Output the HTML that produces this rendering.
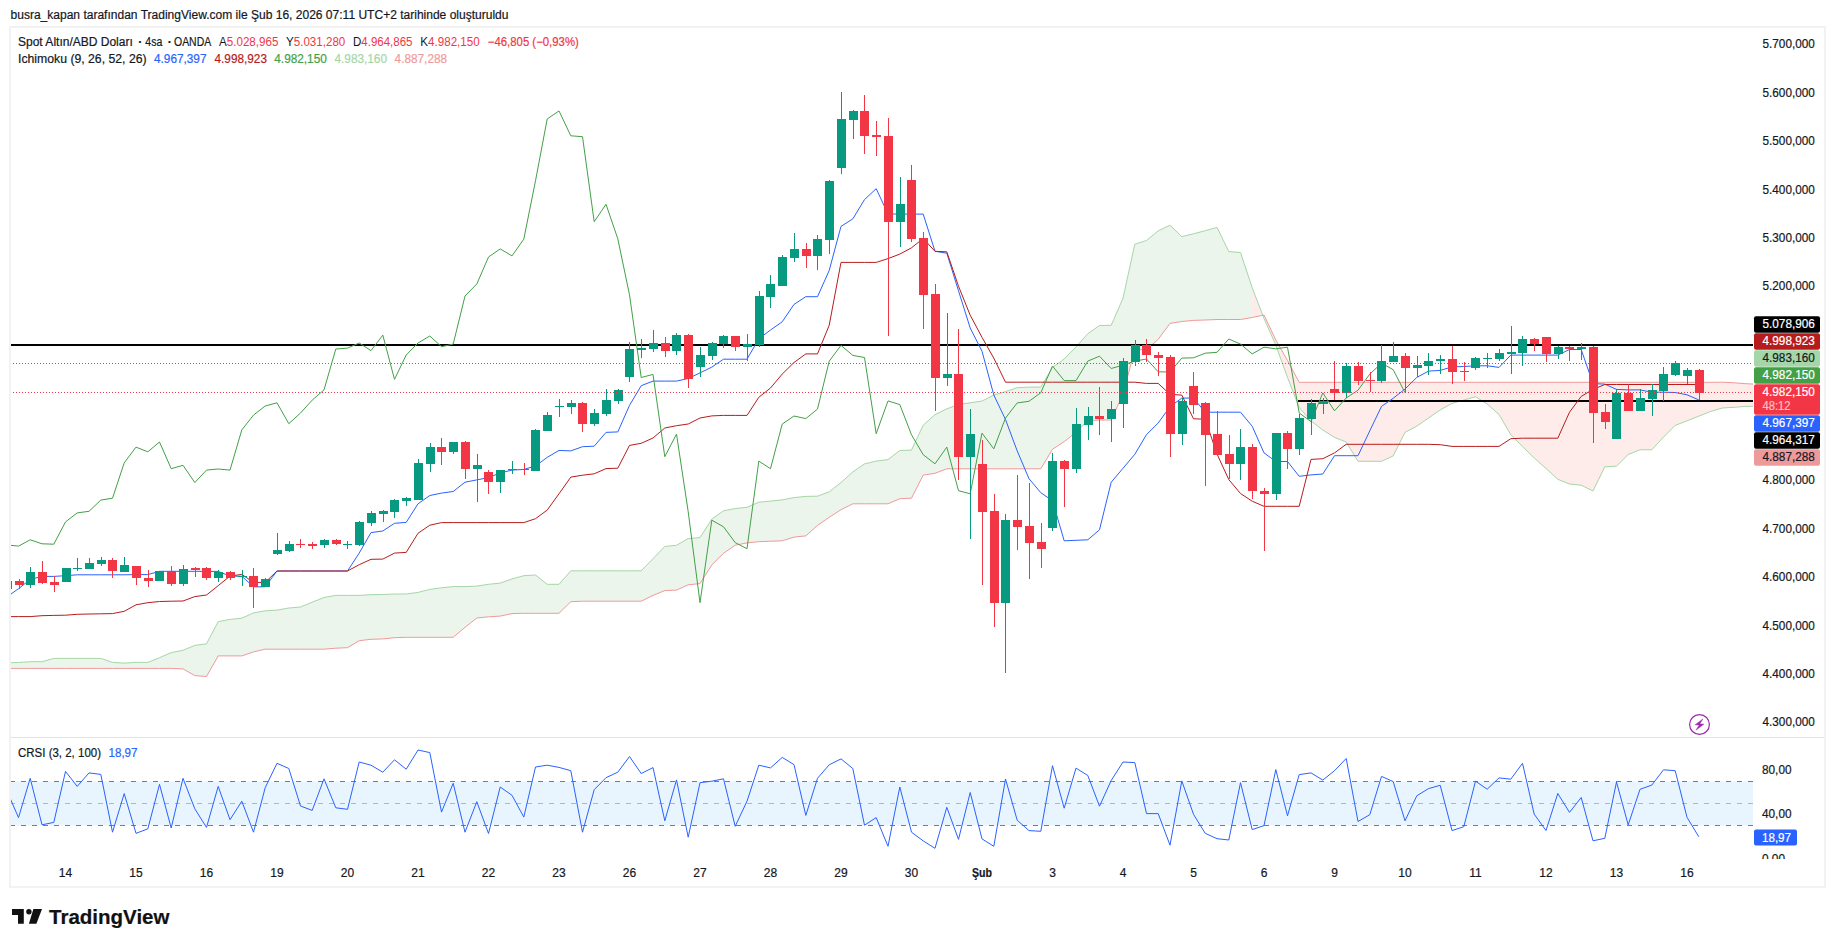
<!DOCTYPE html>
<html lang="tr"><head><meta charset="utf-8"><title>TradingView</title>
<style>html,body{margin:0;padding:0;background:#fff;}body{width:1835px;height:947px;overflow:hidden;position:relative;font-family:'Liberation Sans', sans-serif;}svg{position:absolute;left:0;top:0;display:block}text{font-family:'Liberation Sans', sans-serif;stroke-width:0.2px;paint-order:stroke;}</style>
</head><body>
<svg width="1835" height="947" viewBox="0 0 1835 947">
<defs>
<clipPath id="cm"><rect x="11" y="28" width="1742" height="709"/></clipPath>
<clipPath id="cc"><rect x="11" y="738" width="1742" height="122"/></clipPath>
<clipPath id="ca"><rect x="1753" y="738" width="80" height="121"/></clipPath>
</defs>
<rect width="1835" height="947" fill="#fff"/>
<rect x="10" y="27" width="1815" height="860" fill="none" stroke="#f2f2f2" stroke-width="2"/>
<rect x="11" y="737" width="1813" height="1" fill="#e0e3eb"/>
<g clip-path="url(#cm)">
<path d="M6.8 662.8L18.5 662.5L18.5 668.4L6.8 668.4ZM18.5 662.5L30.2 661.7L30.2 668.4L18.5 668.4ZM30.2 661.7L42 661.7L42 668.4L30.2 668.4ZM42 661.7L53.8 658.4L53.8 668.4L42 668.4ZM53.8 658.4L65.5 658.4L65.5 668.4L53.8 668.4ZM65.5 658.4L77.2 658.4L77.2 668.4L65.5 668.4ZM77.2 658.4L89 658.4L89 668.4L77.2 668.4ZM89 658.4L100.8 658.4L100.8 668.4L89 668.4ZM100.8 658.4L112.5 662.4L112.5 668.4L100.8 668.4ZM112.5 662.4L124.2 663.1L124.2 668.4L112.5 668.4ZM124.2 663.1L136 662.4L136 668.4L124.2 668.4ZM136 662.4L147.8 662.4L147.8 668.4L136 668.4ZM147.8 662.4L159.5 657.7L159.5 668.4L147.8 668.4ZM159.5 657.7L171.2 652.6L171.2 668.4L159.5 668.4ZM171.2 652.6L183 650.3L183 668.9L171.2 668.4ZM183 650.3L194.8 645.4L194.8 675.6L183 668.9ZM194.8 645.4L206.5 643.8L206.5 676.5L194.8 675.6ZM206.5 643.8L218.2 621.7L218.2 655.9L206.5 676.5ZM218.2 621.7L230 619.4L230 655.9L218.2 655.9ZM230 619.4L241.8 618.2L241.8 655.9L230 655.9ZM241.8 618.2L253.5 612.9L253.5 651.9L241.8 655.9ZM253.5 612.9L265.2 610.8L265.2 649.2L253.5 651.9ZM265.2 610.8L277 610.1L277 649.2L265.2 649.2ZM277 610.1L288.8 608L288.8 649.2L277 649.2ZM288.8 608L300.5 607L300.5 649.2L288.8 649.2ZM300.5 607L312.2 602.2L312.2 649.2L300.5 649.2ZM312.2 602.2L324 597.5L324 649.2L312.2 649.2ZM324 597.5L335.8 595.4L335.8 648.2L324 649.2ZM335.8 595.4L347.5 595.4L347.5 647.7L335.8 648.2ZM347.5 595.4L359.2 595.4L359.2 640.7L347.5 647.7ZM359.2 595.4L371 594.7L371 639.3L359.2 640.7ZM371 594.7L382.8 594.5L382.8 638.9L371 639.3ZM382.8 594.5L394.5 594L394.5 637.7L382.8 638.9ZM394.5 594L406.2 594L406.2 637.3L394.5 637.7ZM406.2 594L418 592.4L418 637.3L406.2 637.3ZM418 592.4L429.8 589.4L429.8 637.3L418 637.3ZM429.8 589.4L441.5 587.8L441.5 637.3L429.8 637.3ZM441.5 587.8L453.2 586.6L453.2 637.3L441.5 637.3ZM453.2 586.6L465 586.6L465 627.3L453.2 637.3ZM465 586.6L476.8 586.1L476.8 618L465 627.3ZM476.8 586.1L488.5 584.3L488.5 616.8L476.8 618ZM488.5 584.3L500.2 583.1L500.2 616.1L488.5 616.8ZM500.2 583.1L512 578.9L512 613.6L500.2 616.1ZM512 578.9L523.8 575.7L523.8 613.3L512 613.6ZM523.8 575.7L535.5 575L535.5 613.3L523.8 613.3ZM535.5 575L547.2 584.3L547.2 613.3L535.5 613.3ZM547.2 584.3L559 584.3L559 613.3L547.2 613.3ZM559 584.3L570.8 570.8L570.8 601.7L559 613.3ZM570.8 570.8L582.5 570.8L582.5 601.2L570.8 601.7ZM582.5 570.8L594.2 570.8L594.2 601.2L582.5 601.2ZM594.2 570.8L606 570.8L606 601.2L594.2 601.2ZM606 570.8L617.8 570.8L617.8 601.2L606 601.2ZM617.8 570.8L629.5 570.8L629.5 601.2L617.8 601.2ZM629.5 570.8L641.2 570.8L641.2 601.2L629.5 601.2ZM641.2 570.8L653 558.7L653 595.4L641.2 601.2ZM653 558.7L664.8 546.4L664.8 590.6L653 595.4ZM664.8 546.4L676.5 545.3L676.5 590.1L664.8 590.6ZM676.5 545.3L688.2 538.6L688.2 584.8L676.5 590.1ZM688.2 538.6L700 537.6L700 583.6L688.2 584.8ZM700 537.6L711.8 519.2L711.8 564.9L700 583.6ZM711.8 519.2L723.5 510.8L723.5 553.3L711.8 564.9ZM723.5 510.8L735.2 508.5L735.2 545.2L723.5 553.3ZM735.2 508.5L747 507.3L747 542.9L735.2 545.2ZM747 507.3L758.8 502.2L758.8 541.7L747 542.9ZM758.8 502.2L770.5 501.1L770.5 541.2L758.8 541.7ZM770.5 501.1L782.2 499.9L782.2 540.8L770.5 541.2ZM782.2 499.9L794 497.6L794 537.1L782.2 540.8ZM794 497.6L805.8 496.4L805.8 535.9L794 537.1ZM805.8 496.4L817.5 496.2L817.5 525.4L805.8 535.9ZM817.5 496.2L829.2 491.8L829.2 517.3L817.5 525.4ZM829.2 491.8L841 482.5L841 509.7L829.2 517.3ZM841 482.5L852.8 472L852.8 503.8L841 509.7ZM852.8 472L864.5 463.9L864.5 503.8L852.8 503.8ZM864.5 463.9L876.2 461.1L876.2 503.8L864.5 503.8ZM876.2 461.1L888 459.6L888 503.8L876.2 503.8ZM888 459.6L899.8 450.5L899.8 498.7L888 503.8ZM899.8 450.5L911.5 450.1L911.5 498.2L899.8 498.7ZM911.5 450.1L923.2 425.2L923.2 475.1L911.5 498.2ZM923.2 425.2L935 414.6L935 473.3L923.2 475.1ZM935 414.6L946.8 408.9L946.8 468.8L935 473.3ZM946.8 408.9L958.5 404.5L958.5 468.8L946.8 468.8ZM958.5 404.5L970.2 402.8L970.2 468.8L958.5 468.8ZM970.2 402.8L982 401L982 468.8L970.2 468.8ZM982 401L993.8 395.1L993.8 468.8L982 468.8ZM993.8 395.1L1005.5 391.6L1005.5 468.8L993.8 468.8ZM1005.5 391.6L1017.2 387.7L1017.2 468.8L1005.5 468.8ZM1017.2 387.7L1029 387.1L1029 468.8L1017.2 468.8ZM1029 387.1L1040.8 387.1L1040.8 468.8L1029 468.8ZM1040.8 387.1L1052.5 367.5L1052.5 449.2L1040.8 468.8ZM1052.5 367.5L1064.2 359L1064.2 441.6L1052.5 449.2ZM1064.2 359L1076 347L1076 432.3L1064.2 441.6ZM1076 347L1087.8 333.7L1087.8 420.7L1076 432.3ZM1087.8 333.7L1099.5 325.5L1099.5 420L1087.8 420.7ZM1099.5 325.5L1111.2 325.3L1111.2 420L1099.5 420ZM1111.2 325.3L1123 298.2L1123 394L1111.2 420ZM1123 298.2L1134.8 244.2L1134.8 349.7L1123 394ZM1134.8 244.2L1146.5 240.5L1146.5 349.7L1134.8 349.7ZM1146.5 240.5L1158.2 230.9L1158.2 339.3L1146.5 349.7ZM1158.2 230.9L1170 225.2L1170 323.4L1158.2 339.3ZM1170 225.2L1181.8 236.6L1181.8 321.5L1170 323.4ZM1181.8 236.6L1193.5 233.8L1193.5 320.4L1181.8 321.5ZM1193.5 233.8L1205.2 230.7L1205.2 320L1193.5 320.4ZM1205.2 230.7L1217 227.4L1217 319.5L1205.2 320ZM1217 227.4L1228.8 251.6L1228.8 319.5L1217 319.5ZM1228.8 251.6L1240.5 252.5L1240.5 319.5L1228.8 319.5ZM1240.5 252.5L1252.2 287.8L1252.2 317.5L1240.5 319.5Z" fill="#43A047" fill-opacity="0.1" stroke="none"/>
<path d="M1252.2 287.8L1264 318.5L1264 315L1252.2 317.5ZM1264 318.5L1275.8 345L1275.8 340L1264 315ZM1275.8 345L1287.5 377.5L1287.5 360.5L1275.8 340ZM1287.5 377.5L1299.2 407.5L1299.2 382.3L1287.5 360.5ZM1299.2 407.5L1311 421L1311 382.3L1299.2 382.3ZM1311 421L1322.8 430L1322.8 382.3L1311 382.3ZM1322.8 430L1334.5 437.4L1334.5 382.3L1322.8 382.3ZM1334.5 437.4L1346.2 442L1346.2 382.3L1334.5 382.3ZM1346.2 442L1358 461.3L1358 382.3L1346.2 382.3ZM1358 461.3L1369.8 461.3L1369.8 382.3L1358 382.3ZM1369.8 461.3L1381.5 461.3L1381.5 382.3L1369.8 382.3ZM1381.5 461.3L1393.2 455.9L1393.2 382.3L1381.5 382.3ZM1393.2 455.9L1405 432.4L1405 382.3L1393.2 382.3ZM1405 432.4L1416.8 426.2L1416.8 382.3L1405 382.3ZM1416.8 426.2L1428.5 418L1428.5 382.3L1416.8 382.3ZM1428.5 418L1440.2 409.9L1440.2 382.3L1428.5 382.3ZM1440.2 409.9L1452 403.4L1452 382.3L1440.2 382.3ZM1452 403.4L1463.8 400.1L1463.8 382.3L1452 382.3ZM1463.8 400.1L1475.5 396.7L1475.5 382.3L1463.8 382.3ZM1475.5 396.7L1487.2 404L1487.2 382.3L1475.5 382.3ZM1487.2 404L1499 414.5L1499 382.3L1487.2 382.3ZM1499 414.5L1510.8 434.7L1510.8 382.3L1499 382.3ZM1510.8 434.7L1522.5 446.4L1522.5 382.3L1510.8 382.3ZM1522.5 446.4L1534.2 458L1534.2 382.3L1522.5 382.3ZM1534.2 458L1546 468.4L1546 382.3L1534.2 382.3ZM1546 468.4L1557.8 479.3L1557.8 382.3L1546 382.3ZM1557.8 479.3L1569.5 484L1569.5 382.3L1557.8 382.3ZM1569.5 484L1581.2 485.2L1581.2 382.3L1569.5 382.3ZM1581.2 485.2L1593 491L1593 382.3L1581.2 382.3ZM1593 491L1604.8 466.8L1604.8 382.3L1593 382.3ZM1604.8 466.8L1616.5 466.1L1616.5 382.3L1604.8 382.3ZM1616.5 466.1L1628.2 454.5L1628.2 382.3L1616.5 382.3ZM1628.2 454.5L1640 449.8L1640 382.3L1628.2 382.3ZM1640 449.8L1651.8 449.8L1651.8 382.3L1640 382.3ZM1651.8 449.8L1663.5 437.1L1663.5 382.3L1651.8 382.3ZM1663.5 437.1L1675.2 425.4L1675.2 382.3L1663.5 382.3ZM1675.2 425.4L1687 420.8L1687 382.3L1675.2 382.3ZM1687 420.8L1698.8 416.2L1698.8 382.3L1687 382.3ZM1698.8 416.2L1710.5 411.5L1710.5 382.3L1698.8 382.3ZM1710.5 411.5L1722.2 408L1722.2 382.2L1710.5 382.3ZM1722.2 408L1734 407.3L1734 382.8L1722.2 382.2ZM1734 407.3L1745.8 406.4L1745.8 383.7L1734 382.8ZM1745.8 406.4L1757.5 406.2L1757.5 384.3L1745.8 383.7ZM1757.5 406.2L1769.2 406L1769.2 385L1757.5 384.3Z" fill="#F44336" fill-opacity="0.1" stroke="none"/>
<polyline points="6.8,662.8 18.5,662.5 30.2,661.7 42,661.7 53.8,658.4 65.5,658.4 77.2,658.4 89,658.4 100.8,658.4 112.5,662.4 124.2,663.1 136,662.4 147.8,662.4 159.5,657.7 171.2,652.6 183,650.3 194.8,645.4 206.5,643.8 218.2,621.7 230,619.4 241.8,618.2 253.5,612.9 265.2,610.8 277,610.1 288.8,608 300.5,607 312.2,602.2 324,597.5 335.8,595.4 347.5,595.4 359.2,595.4 371,594.7 382.8,594.5 394.5,594 406.2,594 418,592.4 429.8,589.4 441.5,587.8 453.2,586.6 465,586.6 476.8,586.1 488.5,584.3 500.2,583.1 512,578.9 523.8,575.7 535.5,575 547.2,584.3 559,584.3 570.8,570.8 582.5,570.8 594.2,570.8 606,570.8 617.8,570.8 629.5,570.8 641.2,570.8 653,558.7 664.8,546.4 676.5,545.3 688.2,538.6 700,537.6 711.8,519.2 723.5,510.8 735.2,508.5 747,507.3 758.8,502.2 770.5,501.1 782.2,499.9 794,497.6 805.8,496.4 817.5,496.2 829.2,491.8 841,482.5 852.8,472 864.5,463.9 876.2,461.1 888,459.6 899.8,450.5 911.5,450.1 923.2,425.2 935,414.6 946.8,408.9 958.5,404.5 970.2,402.8 982,401 993.8,395.1 1005.5,391.6 1017.2,387.7 1029,387.1 1040.8,387.1 1052.5,367.5 1064.2,359 1076,347 1087.8,333.7 1099.5,325.5 1111.2,325.3 1123,298.2 1134.8,244.2 1146.5,240.5 1158.2,230.9 1170,225.2 1181.8,236.6 1193.5,233.8 1205.2,230.7 1217,227.4 1228.8,251.6 1240.5,252.5 1252.2,287.8 1264,318.5 1275.8,345 1287.5,377.5 1299.2,407.5 1311,421 1322.8,430 1334.5,437.4 1346.2,442 1358,461.3 1369.8,461.3 1381.5,461.3 1393.2,455.9 1405,432.4 1416.8,426.2 1428.5,418 1440.2,409.9 1452,403.4 1463.8,400.1 1475.5,396.7 1487.2,404 1499,414.5 1510.8,434.7 1522.5,446.4 1534.2,458 1546,468.4 1557.8,479.3 1569.5,484 1581.2,485.2 1593,491 1604.8,466.8 1616.5,466.1 1628.2,454.5 1640,449.8 1651.8,449.8 1663.5,437.1 1675.2,425.4 1687,420.8 1698.8,416.2 1710.5,411.5 1722.2,408 1734,407.3 1745.8,406.4 1757.5,406.2 1769.2,406" fill="none" stroke="#A5D6A7" stroke-width="1" stroke-linejoin="round" />
<polyline points="6.8,668.4 18.5,668.4 30.2,668.4 42,668.4 53.8,668.4 65.5,668.4 77.2,668.4 89,668.4 100.8,668.4 112.5,668.4 124.2,668.4 136,668.4 147.8,668.4 159.5,668.4 171.2,668.4 183,668.9 194.8,675.6 206.5,676.5 218.2,655.9 230,655.9 241.8,655.9 253.5,651.9 265.2,649.2 277,649.2 288.8,649.2 300.5,649.2 312.2,649.2 324,649.2 335.8,648.2 347.5,647.7 359.2,640.7 371,639.3 382.8,638.9 394.5,637.7 406.2,637.3 418,637.3 429.8,637.3 441.5,637.3 453.2,637.3 465,627.3 476.8,618 488.5,616.8 500.2,616.1 512,613.6 523.8,613.3 535.5,613.3 547.2,613.3 559,613.3 570.8,601.7 582.5,601.2 594.2,601.2 606,601.2 617.8,601.2 629.5,601.2 641.2,601.2 653,595.4 664.8,590.6 676.5,590.1 688.2,584.8 700,583.6 711.8,564.9 723.5,553.3 735.2,545.2 747,542.9 758.8,541.7 770.5,541.2 782.2,540.8 794,537.1 805.8,535.9 817.5,525.4 829.2,517.3 841,509.7 852.8,503.8 864.5,503.8 876.2,503.8 888,503.8 899.8,498.7 911.5,498.2 923.2,475.1 935,473.3 946.8,468.8 958.5,468.8 970.2,468.8 982,468.8 993.8,468.8 1005.5,468.8 1017.2,468.8 1029,468.8 1040.8,468.8 1052.5,449.2 1064.2,441.6 1076,432.3 1087.8,420.7 1099.5,420 1111.2,420 1123,394 1134.8,349.7 1146.5,349.7 1158.2,339.3 1170,323.4 1181.8,321.5 1193.5,320.4 1205.2,320 1217,319.5 1228.8,319.5 1240.5,319.5 1252.2,317.5 1264,315 1275.8,340 1287.5,360.5 1299.2,382.3 1311,382.3 1322.8,382.3 1334.5,382.3 1346.2,382.3 1358,382.3 1369.8,382.3 1381.5,382.3 1393.2,382.3 1405,382.3 1416.8,382.3 1428.5,382.3 1440.2,382.3 1452,382.3 1463.8,382.3 1475.5,382.3 1487.2,382.3 1499,382.3 1510.8,382.3 1522.5,382.3 1534.2,382.3 1546,382.3 1557.8,382.3 1569.5,382.3 1581.2,382.3 1593,382.3 1604.8,382.3 1616.5,382.3 1628.2,382.3 1640,382.3 1651.8,382.3 1663.5,382.3 1675.2,382.3 1687,382.3 1698.8,382.3 1710.5,382.3 1722.2,382.2 1734,382.8 1745.8,383.7 1757.5,384.3 1769.2,385" fill="none" stroke="#EF9A9A" stroke-width="1" stroke-linejoin="round" />
<rect x="11" y="344" width="1742" height="2" fill="#000"/>
<rect x="1298" y="400" width="455" height="2" fill="#000"/>
<polyline points="6.8,597 18.5,588.7 30.2,579.4 42,576.4 53.8,576.4 65.5,575.7 77.2,574.8 89,574.8 100.8,574.8 112.5,574.8 124.2,574.8 136,574.6 147.8,574.6 159.5,571.3 171.2,571.3 183,571.3 194.8,571.3 206.5,571.4 218.2,571.4 230,576.1 241.8,576.3 253.5,586.8 265.2,586.8 277,571 288.8,571 300.5,571 312.2,571 324,571 335.8,571 347.5,571 359.2,553.1 371,532.6 382.8,531 394.5,523.3 406.2,522.4 418,503.8 429.8,495.5 441.5,493.1 453.2,491.5 465,482.2 476.8,479.9 488.5,477.6 500.2,472.9 512,470.1 523.8,469.4 535.5,466 547.2,457.4 559,450.4 570.8,450.9 582.5,446.7 594.2,446.2 606,432.4 617.8,431.9 629.5,405.4 641.2,385.7 653,381.1 664.8,381.1 676.5,381.1 688.2,378.5 700,372.9 711.8,367.1 723.5,359.2 735.2,359.2 747,359.2 758.8,338.8 770.5,330 782.2,321.8 794,304.4 805.8,296.7 817.5,296.7 829.2,270.5 841,226.4 852.8,218.9 864.5,199.6 876.2,188.7 888,214 899.8,214 911.5,214.1 923.2,214.1 935,251.3 946.8,253.2 958.5,290.8 970.2,328 982,351.2 993.8,395 1005.5,419.5 1017.2,450.9 1029,478.7 1040.8,492.7 1052.5,500.8 1064.2,540.8 1076,540.3 1087.8,539.8 1099.5,529.8 1111.2,482.2 1123,468.3 1134.8,454.3 1146.5,434.6 1158.2,423 1170,406.7 1181.8,398.1 1193.5,398.1 1205.2,412.2 1217,412.2 1228.8,412.2 1240.5,412.2 1252.2,426.2 1264,452.9 1275.8,461.5 1287.5,461.5 1299.2,476.3 1311,474.9 1322.8,474 1334.5,455.7 1346.2,455.7 1358,455.7 1369.8,430.8 1381.5,406.4 1393.2,398.3 1405,389 1416.8,377.4 1428.5,371.1 1440.2,370.4 1452,366.9 1463.8,366.5 1475.5,365.8 1487.2,365.8 1499,367.4 1510.8,355.1 1522.5,355.1 1534.2,355.1 1546,355.1 1557.8,355.1 1569.5,349.5 1581.2,349.5 1593,383.6 1604.8,384.1 1616.5,389.4 1628.2,389.9 1640,389.9 1651.8,392.2 1663.5,392.2 1675.2,392.5 1687,394.8 1698.8,399.9" fill="none" stroke="#2962FF" stroke-width="1" stroke-linejoin="round" />
<polyline points="6.8,616.6 18.5,616.6 30.2,616.6 42,615.7 53.8,615.4 65.5,615.2 77.2,614.3 89,614 100.8,613.8 112.5,613.6 124.2,611.3 136,604.8 147.8,602.7 159.5,601.5 171.2,601.2 183,601 194.8,596.6 206.5,595 218.2,585.7 230,576.1 241.8,574.4 253.5,582.4 265.2,582.4 277,571 288.8,571 300.5,571 312.2,571 324,571 335.8,571 347.5,571 359.2,564.7 371,559.3 382.8,559.1 394.5,553.1 406.2,552.4 418,533.3 429.8,525.2 441.5,522.6 453.2,522.6 465,522.6 476.8,522.6 488.5,522.6 500.2,522.6 512,522.6 523.8,522.6 535.5,518.7 547.2,510.1 559,493.8 570.8,477.1 582.5,475.2 594.2,473.8 606,468.6 617.8,468.2 629.5,445.4 641.2,443.3 653,438 664.8,428 676.5,425.7 688.2,424 700,418 711.8,415.9 723.5,415.4 735.2,415.4 747,415.4 758.8,397.3 770.5,388 782.2,374.1 794,362.5 805.8,353.9 817.5,353.9 829.2,325.3 841,262.4 852.8,262.4 864.5,262.4 876.2,262.4 888,258.6 899.8,254.1 911.5,247.8 923.2,238.5 935,251.3 946.8,251.8 958.5,286.2 970.2,315.2 982,337.3 993.8,358.2 1005.5,382.2 1017.2,382.2 1029,382.2 1040.8,382.2 1052.5,382.2 1064.2,382.2 1076,382.2 1087.8,382.2 1099.5,382.2 1111.2,382.2 1123,382.2 1134.8,382.2 1146.5,383.4 1158.2,383.4 1170,394.4 1181.8,395.1 1193.5,418.8 1205.2,419.2 1217,454 1228.8,479.6 1240.5,493.5 1252.2,501.2 1264,506.3 1275.8,506.3 1287.5,506.3 1299.2,506.3 1311,459.4 1322.8,458.7 1334.5,452.9 1346.2,444.3 1358,444.3 1369.8,444.3 1381.5,444.3 1393.2,444.3 1405,444.3 1416.8,444.3 1428.5,444.3 1440.2,444.7 1452,446.4 1463.8,446.4 1475.5,446.4 1487.2,446.4 1499,446.4 1510.8,438.7 1522.5,438.2 1534.2,438.2 1546,438.2 1557.8,438.2 1569.5,412.2 1581.2,396.4 1593,389.4 1604.8,384.5 1616.5,384.5 1628.2,384.5 1640,384.5 1651.8,384.5 1663.5,384.5 1675.2,384.5 1687,384.5 1698.8,384.5" fill="none" stroke="#B71C1C" stroke-width="1" stroke-linejoin="round" />
<polyline points="-5,544.1 6.8,545 18.5,546.1 30.2,539.8 42,543.8 53.8,544.2 65.5,521.9 77.2,512.9 89,511.3 100.8,500.1 112.5,498.2 124.2,462.9 136,447.1 147.8,451.8 159.5,442 171.2,468.7 183,465.3 194.8,482.5 206.5,470.1 218.2,469 230,470.1 241.8,429.9 253.5,415.1 265.2,406 277,402.8 288.8,423.7 300.5,413 312.2,400.1 324,389.9 335.8,349 347.5,348.1 359.2,343 371,350.6 382.8,335.1 394.5,379.4 406.2,355 418,343 429.8,336 441.5,346.7 453.2,344.1 465,296 476.8,284 488.5,257 500.2,248.9 512,255.9 523.8,239.1 535.5,180.8 547.2,119 559,110.9 570.8,135.8 582.5,136.7 594.2,221.7 606,204.3 617.8,238.8 629.5,294.8 641.2,377.5 653,374.4 664.8,456.7 676.5,434.1 688.2,511.7 700,602.7 711.8,520.2 723.5,526.8 735.2,542.6 747,548.7 758.8,461.1 770.5,468.7 782.2,424.1 794,416 805.8,418.6 817.5,409 829.2,361.2 841,345.4 852.8,355.4 864.5,357.5 876.2,433.7 888,400.9 899.8,404.6 911.5,434.8 923.2,454.7 935,463.8 946.8,447.1 958.5,490.7 970.2,493.8 982,433.1 993.8,448.9 1005.5,418 1017.2,402.9 1029,401.3 1040.8,392.7 1052.5,366 1064.2,380.6 1076,380.6 1087.8,361.1 1099.5,356.2 1111.2,368.5 1123,365.1 1134.8,361.1 1146.5,359 1158.2,371.8 1170,372 1181.8,358.1 1193.5,357.8 1205.2,353.2 1217,352.3 1228.8,339 1240.5,344.1 1252.2,353.9 1264,347.2 1275.8,348.8 1287.5,347.2 1299.2,412.9 1311,421.7 1322.8,392.9 1334.5,410.8 1346.2,398 1358,390.2 1369.8,374.1 1381.5,363.2 1393.2,369.7 1405,392.7" fill="none" stroke="#43A047" stroke-width="1" stroke-linejoin="round" />
<g shape-rendering="crispEdges">
<rect x="7" y="581" width="1" height="8" fill="#089981"/><rect x="3" y="581" width="9" height="8" fill="#089981"/>
<rect x="19" y="579" width="1" height="10" fill="#F23645"/><rect x="15" y="581" width="9" height="4" fill="#F23645"/>
<rect x="30" y="567" width="1" height="21" fill="#089981"/><rect x="26" y="572" width="9" height="13" fill="#089981"/>
<rect x="42" y="561" width="1" height="23" fill="#F23645"/><rect x="38" y="572" width="9" height="11" fill="#F23645"/>
<rect x="54" y="576" width="1" height="16" fill="#F23645"/><rect x="50" y="582" width="9" height="3" fill="#F23645"/>
<rect x="66" y="568" width="1" height="14" fill="#089981"/><rect x="62" y="568" width="9" height="14" fill="#089981"/>
<rect x="77" y="558" width="1" height="13" fill="#089981"/><rect x="73" y="568" width="9" height="1" fill="#089981"/>
<rect x="89" y="558" width="1" height="11" fill="#089981"/><rect x="85" y="563" width="9" height="6" fill="#089981"/>
<rect x="101" y="557" width="1" height="9" fill="#089981"/><rect x="97" y="560" width="9" height="4" fill="#089981"/>
<rect x="112" y="558" width="1" height="20" fill="#F23645"/><rect x="108" y="560" width="9" height="11" fill="#F23645"/>
<rect x="124" y="557" width="1" height="15" fill="#089981"/><rect x="120" y="565" width="9" height="7" fill="#089981"/>
<rect x="136" y="566" width="1" height="19" fill="#F23645"/><rect x="132" y="566" width="9" height="12" fill="#F23645"/>
<rect x="148" y="570" width="1" height="17" fill="#F23645"/><rect x="144" y="578" width="9" height="3" fill="#F23645"/>
<rect x="159" y="571" width="1" height="10" fill="#089981"/><rect x="155" y="571" width="9" height="10" fill="#089981"/>
<rect x="171" y="566" width="1" height="20" fill="#F23645"/><rect x="167" y="571" width="9" height="13" fill="#F23645"/>
<rect x="183" y="565" width="1" height="21" fill="#089981"/><rect x="179" y="569" width="9" height="15" fill="#089981"/>
<rect x="195" y="567" width="1" height="10" fill="#F23645"/><rect x="191" y="568" width="9" height="2" fill="#F23645"/>
<rect x="206" y="567" width="1" height="13" fill="#F23645"/><rect x="202" y="568" width="9" height="10" fill="#F23645"/>
<rect x="218" y="570" width="1" height="12" fill="#089981"/><rect x="214" y="572" width="9" height="6" fill="#089981"/>
<rect x="230" y="571" width="1" height="9" fill="#F23645"/><rect x="226" y="572" width="9" height="6" fill="#F23645"/>
<rect x="242" y="570" width="1" height="16" fill="#089981"/><rect x="238" y="576" width="9" height="1" fill="#089981"/>
<rect x="253" y="568" width="1" height="40" fill="#F23645"/><rect x="249" y="576" width="9" height="11" fill="#F23645"/>
<rect x="265" y="578" width="1" height="9" fill="#089981"/><rect x="261" y="579" width="9" height="8" fill="#089981"/>
<rect x="277" y="533" width="1" height="22" fill="#089981"/><rect x="273" y="550" width="9" height="4" fill="#089981"/>
<rect x="289" y="541" width="1" height="11" fill="#089981"/><rect x="285" y="544" width="9" height="7" fill="#089981"/>
<rect x="300" y="539" width="1" height="9" fill="#F23645"/><rect x="296" y="544" width="9" height="1" fill="#F23645"/>
<rect x="312" y="542" width="1" height="7" fill="#F23645"/><rect x="308" y="544" width="9" height="2" fill="#F23645"/>
<rect x="324" y="539" width="1" height="9" fill="#089981"/><rect x="320" y="540" width="9" height="5" fill="#089981"/>
<rect x="336" y="539" width="1" height="6" fill="#F23645"/><rect x="332" y="540" width="9" height="4" fill="#F23645"/>
<rect x="347" y="541" width="1" height="8" fill="#089981"/><rect x="343" y="544" width="9" height="1" fill="#089981"/>
<rect x="359" y="521" width="1" height="25" fill="#089981"/><rect x="355" y="522" width="9" height="23" fill="#089981"/>
<rect x="371" y="511" width="1" height="15" fill="#089981"/><rect x="367" y="513" width="9" height="10" fill="#089981"/>
<rect x="383" y="510" width="1" height="12" fill="#089981"/><rect x="379" y="511" width="9" height="3" fill="#089981"/>
<rect x="394" y="499" width="1" height="19" fill="#089981"/><rect x="390" y="500" width="9" height="12" fill="#089981"/>
<rect x="406" y="497" width="1" height="9" fill="#089981"/><rect x="402" y="498" width="9" height="3" fill="#089981"/>
<rect x="418" y="459" width="1" height="41" fill="#089981"/><rect x="414" y="463" width="9" height="37" fill="#089981"/>
<rect x="430" y="443" width="1" height="29" fill="#089981"/><rect x="426" y="447" width="9" height="17" fill="#089981"/>
<rect x="441" y="438" width="1" height="27" fill="#F23645"/><rect x="437" y="447" width="9" height="5" fill="#F23645"/>
<rect x="453" y="442" width="1" height="12" fill="#089981"/><rect x="449" y="442" width="9" height="10" fill="#089981"/>
<rect x="465" y="441" width="1" height="38" fill="#F23645"/><rect x="461" y="442" width="9" height="27" fill="#F23645"/>
<rect x="477" y="454" width="1" height="48" fill="#089981"/><rect x="473" y="465" width="9" height="4" fill="#089981"/>
<rect x="488" y="470" width="1" height="24" fill="#F23645"/><rect x="484" y="472" width="9" height="10" fill="#F23645"/>
<rect x="500" y="470" width="1" height="23" fill="#089981"/><rect x="496" y="470" width="9" height="12" fill="#089981"/>
<rect x="512" y="461" width="1" height="13" fill="#089981"/><rect x="508" y="469" width="9" height="1" fill="#089981"/>
<rect x="524" y="463" width="1" height="12" fill="#F23645"/><rect x="520" y="469" width="9" height="1" fill="#F23645"/>
<rect x="535" y="429" width="1" height="42" fill="#089981"/><rect x="531" y="430" width="9" height="41" fill="#089981"/>
<rect x="547" y="412" width="1" height="19" fill="#089981"/><rect x="543" y="415" width="9" height="16" fill="#089981"/>
<rect x="559" y="399" width="1" height="18" fill="#089981"/><rect x="555" y="406" width="9" height="1" fill="#089981"/>
<rect x="571" y="400" width="1" height="14" fill="#089981"/><rect x="567" y="403" width="9" height="4" fill="#089981"/>
<rect x="582" y="402" width="1" height="30" fill="#F23645"/><rect x="578" y="403" width="9" height="21" fill="#F23645"/>
<rect x="594" y="409" width="1" height="17" fill="#089981"/><rect x="590" y="413" width="9" height="11" fill="#089981"/>
<rect x="606" y="389" width="1" height="27" fill="#089981"/><rect x="602" y="400" width="9" height="14" fill="#089981"/>
<rect x="618" y="389" width="1" height="15" fill="#089981"/><rect x="614" y="390" width="9" height="11" fill="#089981"/>
<rect x="629" y="342" width="1" height="40" fill="#089981"/><rect x="625" y="349" width="9" height="28" fill="#089981"/>
<rect x="641" y="339" width="1" height="19" fill="#089981"/><rect x="637" y="348" width="9" height="2" fill="#089981"/>
<rect x="653" y="330" width="1" height="22" fill="#089981"/><rect x="649" y="343" width="9" height="6" fill="#089981"/>
<rect x="665" y="337" width="1" height="20" fill="#F23645"/><rect x="661" y="343" width="9" height="8" fill="#F23645"/>
<rect x="676" y="333" width="1" height="22" fill="#089981"/><rect x="672" y="335" width="9" height="16" fill="#089981"/>
<rect x="688" y="334" width="1" height="54" fill="#F23645"/><rect x="684" y="335" width="9" height="44" fill="#F23645"/>
<rect x="700" y="347" width="1" height="30" fill="#089981"/><rect x="696" y="355" width="9" height="12" fill="#089981"/>
<rect x="712" y="342" width="1" height="18" fill="#089981"/><rect x="708" y="343" width="9" height="13" fill="#089981"/>
<rect x="723" y="335" width="1" height="13" fill="#089981"/><rect x="719" y="336" width="9" height="8" fill="#089981"/>
<rect x="735" y="336" width="1" height="15" fill="#F23645"/><rect x="731" y="336" width="9" height="11" fill="#F23645"/>
<rect x="747" y="334" width="1" height="27" fill="#089981"/><rect x="743" y="344" width="9" height="3" fill="#089981"/>
<rect x="759" y="291" width="1" height="56" fill="#089981"/><rect x="755" y="296" width="9" height="49" fill="#089981"/>
<rect x="770" y="275" width="1" height="33" fill="#089981"/><rect x="766" y="284" width="9" height="13" fill="#089981"/>
<rect x="782" y="255" width="1" height="31" fill="#089981"/><rect x="778" y="257" width="9" height="29" fill="#089981"/>
<rect x="794" y="233" width="1" height="29" fill="#089981"/><rect x="790" y="249" width="9" height="9" fill="#089981"/>
<rect x="806" y="243" width="1" height="25" fill="#F23645"/><rect x="802" y="249" width="9" height="7" fill="#F23645"/>
<rect x="817" y="235" width="1" height="35" fill="#089981"/><rect x="813" y="239" width="9" height="17" fill="#089981"/>
<rect x="829" y="180" width="1" height="74" fill="#089981"/><rect x="825" y="181" width="9" height="59" fill="#089981"/>
<rect x="841" y="92" width="1" height="82" fill="#089981"/><rect x="837" y="119" width="9" height="49" fill="#089981"/>
<rect x="853" y="110" width="1" height="29" fill="#089981"/><rect x="849" y="111" width="9" height="9" fill="#089981"/>
<rect x="864" y="95" width="1" height="59" fill="#F23645"/><rect x="860" y="111" width="9" height="25" fill="#F23645"/>
<rect x="876" y="121" width="1" height="35" fill="#F23645"/><rect x="872" y="135" width="9" height="2" fill="#F23645"/>
<rect x="888" y="118" width="1" height="218" fill="#F23645"/><rect x="884" y="136" width="9" height="86" fill="#F23645"/>
<rect x="900" y="177" width="1" height="70" fill="#089981"/><rect x="896" y="204" width="9" height="18" fill="#089981"/>
<rect x="911" y="165" width="1" height="77" fill="#F23645"/><rect x="907" y="180" width="9" height="59" fill="#F23645"/>
<rect x="923" y="232" width="1" height="97" fill="#F23645"/><rect x="919" y="238" width="9" height="57" fill="#F23645"/>
<rect x="935" y="284" width="1" height="127" fill="#F23645"/><rect x="931" y="294" width="9" height="84" fill="#F23645"/>
<rect x="947" y="313" width="1" height="73" fill="#089981"/><rect x="943" y="374" width="9" height="4" fill="#089981"/>
<rect x="958" y="329" width="1" height="151" fill="#F23645"/><rect x="954" y="374" width="9" height="83" fill="#F23645"/>
<rect x="970" y="409" width="1" height="130" fill="#089981"/><rect x="966" y="434" width="9" height="23" fill="#089981"/>
<rect x="982" y="440" width="1" height="145" fill="#F23645"/><rect x="978" y="464" width="9" height="48" fill="#F23645"/>
<rect x="994" y="494" width="1" height="133" fill="#F23645"/><rect x="990" y="511" width="9" height="92" fill="#F23645"/>
<rect x="1005" y="514" width="1" height="159" fill="#089981"/><rect x="1001" y="520" width="9" height="83" fill="#089981"/>
<rect x="1017" y="475" width="1" height="75" fill="#F23645"/><rect x="1013" y="520" width="9" height="7" fill="#F23645"/>
<rect x="1029" y="483" width="1" height="96" fill="#F23645"/><rect x="1025" y="526" width="9" height="17" fill="#F23645"/>
<rect x="1041" y="523" width="1" height="45" fill="#F23645"/><rect x="1037" y="542" width="9" height="7" fill="#F23645"/>
<rect x="1052" y="453" width="1" height="78" fill="#089981"/><rect x="1048" y="461" width="9" height="67" fill="#089981"/>
<rect x="1064" y="460" width="1" height="47" fill="#F23645"/><rect x="1060" y="461" width="9" height="8" fill="#F23645"/>
<rect x="1076" y="408" width="1" height="65" fill="#089981"/><rect x="1072" y="424" width="9" height="45" fill="#089981"/>
<rect x="1088" y="407" width="1" height="33" fill="#089981"/><rect x="1084" y="416" width="9" height="9" fill="#089981"/>
<rect x="1099" y="387" width="1" height="48" fill="#F23645"/><rect x="1095" y="416" width="9" height="3" fill="#F23645"/>
<rect x="1111" y="401" width="1" height="41" fill="#089981"/><rect x="1107" y="409" width="9" height="10" fill="#089981"/>
<rect x="1123" y="358" width="1" height="70" fill="#089981"/><rect x="1119" y="361" width="9" height="43" fill="#089981"/>
<rect x="1135" y="340" width="1" height="26" fill="#089981"/><rect x="1131" y="345" width="9" height="17" fill="#089981"/>
<rect x="1146" y="339" width="1" height="23" fill="#F23645"/><rect x="1142" y="345" width="9" height="10" fill="#F23645"/>
<rect x="1158" y="352" width="1" height="24" fill="#F23645"/><rect x="1154" y="355" width="9" height="3" fill="#F23645"/>
<rect x="1170" y="355" width="1" height="102" fill="#F23645"/><rect x="1166" y="357" width="9" height="77" fill="#F23645"/>
<rect x="1182" y="398" width="1" height="47" fill="#089981"/><rect x="1178" y="401" width="9" height="33" fill="#089981"/>
<rect x="1193" y="372" width="1" height="42" fill="#F23645"/><rect x="1189" y="386" width="9" height="19" fill="#F23645"/>
<rect x="1205" y="402" width="1" height="84" fill="#F23645"/><rect x="1201" y="403" width="9" height="32" fill="#F23645"/>
<rect x="1217" y="411" width="1" height="44" fill="#F23645"/><rect x="1213" y="434" width="9" height="21" fill="#F23645"/>
<rect x="1229" y="435" width="1" height="44" fill="#F23645"/><rect x="1225" y="454" width="9" height="10" fill="#F23645"/>
<rect x="1240" y="429" width="1" height="51" fill="#089981"/><rect x="1236" y="447" width="9" height="17" fill="#089981"/>
<rect x="1252" y="444" width="1" height="55" fill="#F23645"/><rect x="1248" y="447" width="9" height="44" fill="#F23645"/>
<rect x="1264" y="488" width="1" height="63" fill="#F23645"/><rect x="1260" y="491" width="9" height="3" fill="#F23645"/>
<rect x="1276" y="433" width="1" height="67" fill="#089981"/><rect x="1272" y="433" width="9" height="61" fill="#089981"/>
<rect x="1287" y="431" width="1" height="38" fill="#F23645"/><rect x="1283" y="433" width="9" height="16" fill="#F23645"/>
<rect x="1299" y="414" width="1" height="41" fill="#089981"/><rect x="1295" y="418" width="9" height="31" fill="#089981"/>
<rect x="1311" y="399" width="1" height="36" fill="#089981"/><rect x="1307" y="403" width="9" height="16" fill="#089981"/>
<rect x="1323" y="398" width="1" height="16" fill="#089981"/><rect x="1319" y="401" width="9" height="3" fill="#089981"/>
<rect x="1334" y="361" width="1" height="39" fill="#F23645"/><rect x="1330" y="389" width="9" height="4" fill="#F23645"/>
<rect x="1346" y="363" width="1" height="35" fill="#089981"/><rect x="1342" y="366" width="9" height="27" fill="#089981"/>
<rect x="1358" y="362" width="1" height="23" fill="#F23645"/><rect x="1354" y="366" width="9" height="15" fill="#F23645"/>
<rect x="1370" y="372" width="1" height="20" fill="#F23645"/><rect x="1366" y="380" width="9" height="1" fill="#F23645"/>
<rect x="1381" y="345" width="1" height="38" fill="#089981"/><rect x="1377" y="361" width="9" height="20" fill="#089981"/>
<rect x="1393" y="342" width="1" height="20" fill="#089981"/><rect x="1389" y="356" width="9" height="6" fill="#089981"/>
<rect x="1405" y="353" width="1" height="39" fill="#F23645"/><rect x="1401" y="356" width="9" height="12" fill="#F23645"/>
<rect x="1417" y="356" width="1" height="21" fill="#089981"/><rect x="1413" y="365" width="9" height="3" fill="#089981"/>
<rect x="1428" y="353" width="1" height="22" fill="#089981"/><rect x="1424" y="361" width="9" height="5" fill="#089981"/>
<rect x="1440" y="355" width="1" height="19" fill="#089981"/><rect x="1436" y="359" width="9" height="2" fill="#089981"/>
<rect x="1452" y="346" width="1" height="38" fill="#F23645"/><rect x="1448" y="359" width="9" height="13" fill="#F23645"/>
<rect x="1464" y="362" width="1" height="19" fill="#F23645"/><rect x="1460" y="371" width="9" height="1" fill="#F23645"/>
<rect x="1475" y="357" width="1" height="13" fill="#089981"/><rect x="1471" y="358" width="9" height="10" fill="#089981"/>
<rect x="1487" y="353" width="1" height="15" fill="#089981"/><rect x="1483" y="358" width="9" height="1" fill="#089981"/>
<rect x="1499" y="349" width="1" height="12" fill="#089981"/><rect x="1495" y="353" width="9" height="6" fill="#089981"/>
<rect x="1511" y="326" width="1" height="48" fill="#089981"/><rect x="1507" y="352" width="9" height="2" fill="#089981"/>
<rect x="1522" y="336" width="1" height="30" fill="#089981"/><rect x="1518" y="339" width="9" height="14" fill="#089981"/>
<rect x="1534" y="338" width="1" height="13" fill="#F23645"/><rect x="1530" y="339" width="9" height="5" fill="#F23645"/>
<rect x="1546" y="337" width="1" height="25" fill="#F23645"/><rect x="1542" y="337" width="9" height="17" fill="#F23645"/>
<rect x="1558" y="346" width="1" height="13" fill="#089981"/><rect x="1554" y="347" width="9" height="7" fill="#089981"/>
<rect x="1569" y="346" width="1" height="15" fill="#F23645"/><rect x="1565" y="347" width="9" height="2" fill="#F23645"/>
<rect x="1581" y="343" width="1" height="17" fill="#089981"/><rect x="1577" y="347" width="9" height="2" fill="#089981"/>
<rect x="1593" y="346" width="1" height="97" fill="#F23645"/><rect x="1589" y="347" width="9" height="66" fill="#F23645"/>
<rect x="1605" y="404" width="1" height="25" fill="#F23645"/><rect x="1601" y="412" width="9" height="10" fill="#F23645"/>
<rect x="1616" y="389" width="1" height="50" fill="#089981"/><rect x="1612" y="393" width="9" height="46" fill="#089981"/>
<rect x="1628" y="385" width="1" height="26" fill="#F23645"/><rect x="1624" y="393" width="9" height="18" fill="#F23645"/>
<rect x="1640" y="389" width="1" height="22" fill="#089981"/><rect x="1636" y="398" width="9" height="13" fill="#089981"/>
<rect x="1652" y="384" width="1" height="32" fill="#089981"/><rect x="1648" y="390" width="9" height="9" fill="#089981"/>
<rect x="1663" y="367" width="1" height="34" fill="#089981"/><rect x="1659" y="374" width="9" height="17" fill="#089981"/>
<rect x="1675" y="361" width="1" height="15" fill="#089981"/><rect x="1671" y="363" width="9" height="12" fill="#089981"/>
<rect x="1687" y="368" width="1" height="16" fill="#089981"/><rect x="1683" y="370" width="9" height="6" fill="#089981"/>
<rect x="1699" y="369" width="1" height="31" fill="#F23645"/><rect x="1695" y="370" width="9" height="23" fill="#F23645"/>
</g>
<line x1="10" y1="363.5" x2="1753" y2="363.5" stroke="#F23645" stroke-width="1" stroke-dasharray="1 2" shape-rendering="crispEdges"/>
<line x1="10" y1="392.5" x2="1753" y2="392.5" stroke="#F23645" stroke-width="1" stroke-dasharray="1 2" shape-rendering="crispEdges"/>
</g>
<g fill="none" stroke="#9C27B0"><circle cx="1699.5" cy="724.5" r="9.9" stroke-width="1.2"/></g>
<path d="M1702.9 719L1695.2 724.8L1699.3 725L1696 730L1703.8 724.2L1699.7 723.8Z" fill="#9C27B0" stroke="#9C27B0" stroke-width="0.5" stroke-linejoin="round"/>
<g clip-path="url(#cc)">
<rect x="11" y="781.5" width="1742" height="44" fill="#2196F3" fill-opacity="0.1"/>
<line x1="10" y1="781.5" x2="1753" y2="781.5" stroke="#787B86" stroke-width="1" stroke-dasharray="5 6" shape-rendering="crispEdges"/>
<line x1="10" y1="825.5" x2="1753" y2="825.5" stroke="#787B86" stroke-width="1" stroke-dasharray="5 6" shape-rendering="crispEdges"/>
<line x1="10" y1="803.5" x2="1753" y2="803.5" stroke="#B2B5BE" stroke-width="1" stroke-dasharray="5 6" shape-rendering="crispEdges"/>
<polyline points="6.8,790.7 18.5,817.6 30.2,778.3 42,824.8 53.8,822.4 65.5,771.4 77.2,786.4 89,772.9 100.8,774.4 112.5,832.2 124.2,793.6 136,833.3 147.8,828.9 159.5,784.4 171.2,828 183,778.3 194.8,808.8 206.5,827.4 218.2,786.4 230,819.7 241.8,801.2 253.5,832.2 265.2,787.7 277,763.3 288.8,768.5 300.5,806 312.2,810.4 324,778.8 335.8,807.8 347.5,809.3 359.2,762 371,765.2 382.8,772.2 394.5,759.8 406.2,769.2 418,750 429.8,752.6 441.5,812.1 453.2,783.3 465,832.2 476.8,801.7 488.5,833.5 500.2,787 512,795.3 523.8,817.1 535.5,767 547.2,765.2 559,767.4 570.8,770.7 582.5,832.2 594.2,789.7 606,777.7 617.8,772.2 629.5,756.5 641.2,773.5 653,767.6 664.8,820.8 676.5,779.9 688.2,837.2 700,782.7 711.8,781.2 723.5,778.8 735.2,826.3 747,801.2 758.8,765.2 770.5,767.9 782.2,757.4 794,764.6 805.8,815.4 817.5,778.3 829.2,764.8 841,758.9 852.8,768.5 864.5,825.2 876.2,817.6 888,846.3 899.8,787 911.5,832.2 923.2,840.9 935,848.3 946.8,807.3 958.5,839.4 970.2,792.5 982,838.9 993.8,846.3 1005.5,779 1017.2,820.2 1029,830.6 1040.8,831.3 1052.5,765.7 1064.2,808.2 1076,768.1 1087.8,775.5 1099.5,806.2 1111.2,780.5 1123,762 1134.8,762.6 1146.5,813.6 1158.2,813.6 1170,845.2 1181.8,780.9 1193.5,814.3 1205.2,833.3 1217,838.7 1228.8,840 1240.5,782.7 1252.2,829.6 1264,825.6 1275.8,769.6 1287.5,815.8 1299.2,774.6 1311,772.9 1322.8,780.1 1334.5,770.7 1346.2,758.5 1358,821.5 1369.8,814.7 1381.5,776.4 1393.2,781.6 1405,820.8 1416.8,795.8 1428.5,788.6 1440.2,785.3 1452,830.6 1463.8,826.7 1475.5,781.2 1487.2,789.2 1499,777.9 1510.8,779.2 1522.5,763.3 1534.2,814.2 1546,830.5 1557.8,793.5 1569.5,812.4 1581.2,797.5 1593,840.8 1604.8,838.3 1616.5,782 1628.2,824.9 1640,789.3 1651.8,785.1 1663.5,769.8 1675.2,770.7 1687,817.3 1698.8,836.8" fill="none" stroke="#2962FF" stroke-width="1" stroke-linejoin="round" />
</g>
<text x="10.5" y="19" font-size="12" fill="#131722" stroke="#131722" text-anchor="start" font-weight="normal" textLength="498" lengthAdjust="spacingAndGlyphs" >busra_kapan tarafından TradingView.com ile Şub 16, 2026 07:11 UTC+2 tarihinde oluşturuldu</text>
<text x="18" y="45.6" font-size="12" fill="#131722" stroke="#131722" text-anchor="start" font-weight="normal" textLength="114.8" lengthAdjust="spacingAndGlyphs" >Spot Altın/ABD Doları</text>
<text x="138.3" y="45.6" font-size="12" fill="#131722" stroke="#131722" text-anchor="start" font-weight="bold" >·</text>
<text x="145.3" y="45.6" font-size="12" fill="#131722" stroke="#131722" text-anchor="start" font-weight="normal" textLength="17" lengthAdjust="spacingAndGlyphs" >4sa</text>
<text x="167.8" y="45.6" font-size="12" fill="#131722" stroke="#131722" text-anchor="start" font-weight="bold" >·</text>
<text x="174" y="45.6" font-size="12" fill="#131722" stroke="#131722" text-anchor="start" font-weight="normal" textLength="37.2" lengthAdjust="spacingAndGlyphs" >OANDA</text>
<text x="219" y="45.6" font-size="12" fill="#131722" textLength="59.4" lengthAdjust="spacingAndGlyphs">A<tspan fill="#F23645">5.028,965</tspan></text>
<text x="286" y="45.6" font-size="12" fill="#131722" textLength="59.3" lengthAdjust="spacingAndGlyphs">Y<tspan fill="#F23645">5.031,280</tspan></text>
<text x="353" y="45.6" font-size="12" fill="#131722" textLength="59.5" lengthAdjust="spacingAndGlyphs">D<tspan fill="#F23645">4.964,865</tspan></text>
<text x="420.3" y="45.6" font-size="12" fill="#131722" textLength="59.4" lengthAdjust="spacingAndGlyphs">K<tspan fill="#F23645">4.982,150</tspan></text>
<text x="487.8" y="45.6" font-size="12" fill="#F23645" stroke="#F23645" text-anchor="start" font-weight="normal" textLength="91" lengthAdjust="spacingAndGlyphs" >−46,805 (−0,93%)</text>
<text x="18" y="62.9" font-size="12" fill="#131722" stroke="#131722" text-anchor="start" font-weight="normal" textLength="128.6" lengthAdjust="spacingAndGlyphs" >Ichimoku (9, 26, 52, 26)</text>
<text x="154" y="62.9" font-size="12" fill="#2962FF" stroke="#2962FF" text-anchor="start" font-weight="normal" textLength="52.5" lengthAdjust="spacingAndGlyphs" >4.967,397</text>
<text x="214.5" y="62.9" font-size="12" fill="#B71C1C" stroke="#B71C1C" text-anchor="start" font-weight="normal" textLength="52.5" lengthAdjust="spacingAndGlyphs" >4.998,923</text>
<text x="274.3" y="62.9" font-size="12" fill="#43A047" stroke="#43A047" text-anchor="start" font-weight="normal" textLength="52.5" lengthAdjust="spacingAndGlyphs" >4.982,150</text>
<text x="334.5" y="62.9" font-size="12" fill="#A5D6A7" stroke="#A5D6A7" text-anchor="start" font-weight="normal" textLength="52.5" lengthAdjust="spacingAndGlyphs" >4.983,160</text>
<text x="394.6" y="62.9" font-size="12" fill="#EF9A9A" stroke="#EF9A9A" text-anchor="start" font-weight="normal" textLength="52.5" lengthAdjust="spacingAndGlyphs" >4.887,288</text>
<text x="18" y="757.2" font-size="12" fill="#131722" stroke="#131722" text-anchor="start" font-weight="normal" textLength="83" lengthAdjust="spacingAndGlyphs" >CRSI (3, 2, 100)</text>
<text x="108.5" y="757.2" font-size="12" fill="#2962FF" stroke="#2962FF" text-anchor="start" font-weight="normal" textLength="29" lengthAdjust="spacingAndGlyphs" >18,97</text>
<text x="1762.5" y="48.3" font-size="12.8" fill="#131722" stroke="#131722" text-anchor="start" font-weight="normal" textLength="52.3" lengthAdjust="spacingAndGlyphs" >5.700,000</text>
<text x="1762.5" y="96.7" font-size="12.8" fill="#131722" stroke="#131722" text-anchor="start" font-weight="normal" textLength="52.3" lengthAdjust="spacingAndGlyphs" >5.600,000</text>
<text x="1762.5" y="145.2" font-size="12.8" fill="#131722" stroke="#131722" text-anchor="start" font-weight="normal" textLength="52.3" lengthAdjust="spacingAndGlyphs" >5.500,000</text>
<text x="1762.5" y="193.6" font-size="12.8" fill="#131722" stroke="#131722" text-anchor="start" font-weight="normal" textLength="52.3" lengthAdjust="spacingAndGlyphs" >5.400,000</text>
<text x="1762.5" y="242" font-size="12.8" fill="#131722" stroke="#131722" text-anchor="start" font-weight="normal" textLength="52.3" lengthAdjust="spacingAndGlyphs" >5.300,000</text>
<text x="1762.5" y="290.4" font-size="12.8" fill="#131722" stroke="#131722" text-anchor="start" font-weight="normal" textLength="52.3" lengthAdjust="spacingAndGlyphs" >5.200,000</text>
<text x="1762.5" y="484.2" font-size="12.8" fill="#131722" stroke="#131722" text-anchor="start" font-weight="normal" textLength="52.3" lengthAdjust="spacingAndGlyphs" >4.800,000</text>
<text x="1762.5" y="532.6" font-size="12.8" fill="#131722" stroke="#131722" text-anchor="start" font-weight="normal" textLength="52.3" lengthAdjust="spacingAndGlyphs" >4.700,000</text>
<text x="1762.5" y="581" font-size="12.8" fill="#131722" stroke="#131722" text-anchor="start" font-weight="normal" textLength="52.3" lengthAdjust="spacingAndGlyphs" >4.600,000</text>
<text x="1762.5" y="629.5" font-size="12.8" fill="#131722" stroke="#131722" text-anchor="start" font-weight="normal" textLength="52.3" lengthAdjust="spacingAndGlyphs" >4.500,000</text>
<text x="1762.5" y="677.9" font-size="12.8" fill="#131722" stroke="#131722" text-anchor="start" font-weight="normal" textLength="52.3" lengthAdjust="spacingAndGlyphs" >4.400,000</text>
<text x="1762.5" y="726.3" font-size="12.8" fill="#131722" stroke="#131722" text-anchor="start" font-weight="normal" textLength="52.3" lengthAdjust="spacingAndGlyphs" >4.300,000</text>
<rect x="1754" y="316.3" width="66" height="16.4" rx="2" ry="2" fill="#000000"/>
<text x="1762.5" y="328.3" font-size="12.8" fill="#fff" stroke="#fff" text-anchor="start" font-weight="normal" textLength="52.3" lengthAdjust="spacingAndGlyphs" >5.078,906</text>
<rect x="1754" y="333.3" width="66" height="16.4" rx="2" ry="2" fill="#B71C1C"/>
<text x="1762.5" y="345.3" font-size="12.8" fill="#fff" stroke="#fff" text-anchor="start" font-weight="normal" textLength="52.3" lengthAdjust="spacingAndGlyphs" >4.998,923</text>
<rect x="1754" y="350.3" width="66" height="16.4" rx="2" ry="2" fill="#A5D6A7"/>
<text x="1762.5" y="362.3" font-size="12.8" fill="#131722" stroke="#131722" text-anchor="start" font-weight="normal" textLength="52.3" lengthAdjust="spacingAndGlyphs" >4.983,160</text>
<rect x="1754" y="367.3" width="66" height="16.4" rx="2" ry="2" fill="#43A047"/>
<text x="1762.5" y="379.3" font-size="12.8" fill="#fff" stroke="#fff" text-anchor="start" font-weight="normal" textLength="52.3" lengthAdjust="spacingAndGlyphs" >4.982,150</text>
<rect x="1754" y="384.3" width="66" height="30.4" rx="2" ry="2" fill="#F23645"/>
<text x="1762.5" y="396.3" font-size="12.8" fill="#fff" stroke="#fff" text-anchor="start" font-weight="normal" textLength="52.3" lengthAdjust="spacingAndGlyphs" >4.982,150</text>
<rect x="1754" y="415.3" width="66" height="16.4" rx="2" ry="2" fill="#2962FF"/>
<text x="1762.5" y="427.3" font-size="12.8" fill="#fff" stroke="#fff" text-anchor="start" font-weight="normal" textLength="52.3" lengthAdjust="spacingAndGlyphs" >4.967,397</text>
<rect x="1754" y="432.3" width="66" height="16.4" rx="2" ry="2" fill="#000000"/>
<text x="1762.5" y="444.3" font-size="12.8" fill="#fff" stroke="#fff" text-anchor="start" font-weight="normal" textLength="52.3" lengthAdjust="spacingAndGlyphs" >4.964,317</text>
<rect x="1754" y="449.3" width="66" height="16.4" rx="2" ry="2" fill="#EF9A9A"/>
<text x="1762.5" y="461.3" font-size="12.8" fill="#131722" stroke="#131722" text-anchor="start" font-weight="normal" textLength="52.3" lengthAdjust="spacingAndGlyphs" >4.887,288</text>
<text x="1762.5" y="409.6" font-size="12" fill="#FBC3C7" stroke="#FBC3C7" text-anchor="start" font-weight="normal" textLength="28" lengthAdjust="spacingAndGlyphs" >48:12</text>
<g clip-path="url(#ca)">
<text x="1762" y="774" font-size="12" fill="#131722" stroke="#131722" text-anchor="start" font-weight="normal" textLength="29.5" lengthAdjust="spacingAndGlyphs" >80,00</text>
<text x="1762" y="818.3" font-size="12" fill="#131722" stroke="#131722" text-anchor="start" font-weight="normal" textLength="29.5" lengthAdjust="spacingAndGlyphs" >40,00</text>
<text x="1762" y="862.5" font-size="12" fill="#131722" stroke="#131722" text-anchor="start" font-weight="normal" textLength="23" lengthAdjust="spacingAndGlyphs" >0,00</text>
</g>
<rect x="1754" y="829.5" width="43" height="16" rx="2" ry="2" fill="#2962FF"/>
<text x="1762" y="842" font-size="12" fill="#fff" stroke="#fff" text-anchor="start" font-weight="normal" textLength="29" lengthAdjust="spacingAndGlyphs" >18,97</text>
<text x="65.5" y="877" font-size="12" fill="#131722" stroke="#131722" text-anchor="middle" font-weight="normal" >14</text>
<text x="136" y="877" font-size="12" fill="#131722" stroke="#131722" text-anchor="middle" font-weight="normal" >15</text>
<text x="206.5" y="877" font-size="12" fill="#131722" stroke="#131722" text-anchor="middle" font-weight="normal" >16</text>
<text x="277" y="877" font-size="12" fill="#131722" stroke="#131722" text-anchor="middle" font-weight="normal" >19</text>
<text x="347.5" y="877" font-size="12" fill="#131722" stroke="#131722" text-anchor="middle" font-weight="normal" >20</text>
<text x="418" y="877" font-size="12" fill="#131722" stroke="#131722" text-anchor="middle" font-weight="normal" >21</text>
<text x="488.5" y="877" font-size="12" fill="#131722" stroke="#131722" text-anchor="middle" font-weight="normal" >22</text>
<text x="559" y="877" font-size="12" fill="#131722" stroke="#131722" text-anchor="middle" font-weight="normal" >23</text>
<text x="629.5" y="877" font-size="12" fill="#131722" stroke="#131722" text-anchor="middle" font-weight="normal" >26</text>
<text x="700" y="877" font-size="12" fill="#131722" stroke="#131722" text-anchor="middle" font-weight="normal" >27</text>
<text x="770.5" y="877" font-size="12" fill="#131722" stroke="#131722" text-anchor="middle" font-weight="normal" >28</text>
<text x="841" y="877" font-size="12" fill="#131722" stroke="#131722" text-anchor="middle" font-weight="normal" >29</text>
<text x="911.5" y="877" font-size="12" fill="#131722" stroke="#131722" text-anchor="middle" font-weight="normal" >30</text>
<text x="972" y="877" font-size="12" fill="#131722" stroke="#131722" text-anchor="start" font-weight="bold" textLength="20" lengthAdjust="spacingAndGlyphs" >Şub</text>
<text x="1052.5" y="877" font-size="12" fill="#131722" stroke="#131722" text-anchor="middle" font-weight="normal" >3</text>
<text x="1123" y="877" font-size="12" fill="#131722" stroke="#131722" text-anchor="middle" font-weight="normal" >4</text>
<text x="1193.5" y="877" font-size="12" fill="#131722" stroke="#131722" text-anchor="middle" font-weight="normal" >5</text>
<text x="1264" y="877" font-size="12" fill="#131722" stroke="#131722" text-anchor="middle" font-weight="normal" >6</text>
<text x="1334.5" y="877" font-size="12" fill="#131722" stroke="#131722" text-anchor="middle" font-weight="normal" >9</text>
<text x="1405" y="877" font-size="12" fill="#131722" stroke="#131722" text-anchor="middle" font-weight="normal" >10</text>
<text x="1475.5" y="877" font-size="12" fill="#131722" stroke="#131722" text-anchor="middle" font-weight="normal" >11</text>
<text x="1546" y="877" font-size="12" fill="#131722" stroke="#131722" text-anchor="middle" font-weight="normal" >12</text>
<text x="1616.5" y="877" font-size="12" fill="#131722" stroke="#131722" text-anchor="middle" font-weight="normal" >13</text>
<text x="1687" y="877" font-size="12" fill="#131722" stroke="#131722" text-anchor="middle" font-weight="normal" >16</text>
<g fill="#111">
<path d="M12 909.1H23.8V923.8H18V914.9H12Z"/>
<circle cx="28.9" cy="911.8" r="2.7"/>
<path d="M33.4 909.1H42L36.4 923.8H28.9Z"/>
</g>
<text x="49" y="923.7" font-size="20.5" fill="#111" stroke="#111" text-anchor="start" font-weight="bold" textLength="120.5" lengthAdjust="spacingAndGlyphs" >TradingView</text>
</svg>
</body></html>
